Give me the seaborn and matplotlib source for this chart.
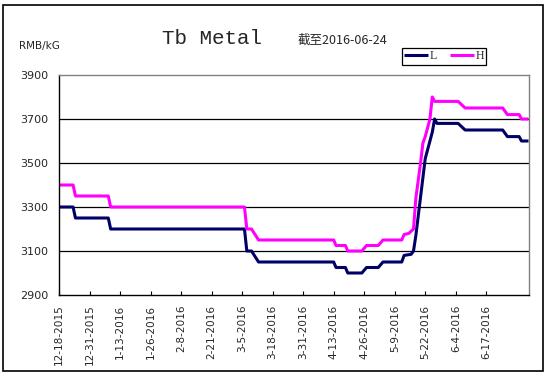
import matplotlib
matplotlib.use("Agg")
import matplotlib.pyplot as plt
from matplotlib.patches import Rectangle
import seaborn as sns
import pandas as pd

# ---- data ----
L_dates = ["2015-12-18", "2015-12-24", "2015-12-25", "2016-01-08", "2016-01-09",
           "2016-03-06", "2016-03-07", "2016-03-09", "2016-03-12", "2016-04-13",
           "2016-04-14", "2016-04-18", "2016-04-19", "2016-04-25", "2016-04-27",
           "2016-05-02", "2016-05-04", "2016-05-12", "2016-05-13", "2016-05-16",
           "2016-05-17", "2016-05-18", "2016-05-22", "2016-05-24", "2016-05-25",
           "2016-05-26", "2016-05-27", "2016-06-05", "2016-06-08", "2016-06-24",
           "2016-06-26", "2016-07-01", "2016-07-02", "2016-07-05"]
L_values = [3300, 3300, 3250, 3250, 3200,
            3200, 3100, 3100, 3050, 3050,
            3025, 3025, 3000, 3000, 3025,
            3025, 3050, 3050, 3080, 3085,
            3100, 3170, 3520, 3600, 3640,
            3700, 3680, 3680, 3650, 3650,
            3620, 3620, 3600, 3600]

H_dates = ["2015-12-18", "2015-12-24", "2015-12-25", "2016-01-08", "2016-01-09",
           "2016-03-06", "2016-03-07", "2016-03-09", "2016-03-12", "2016-04-13",
           "2016-04-14", "2016-04-18", "2016-04-19", "2016-04-25", "2016-04-27",
           "2016-05-02", "2016-05-04", "2016-05-12", "2016-05-13", "2016-05-15",
           "2016-05-17", "2016-05-18", "2016-05-20", "2016-05-21", "2016-05-22",
           "2016-05-24", "2016-05-25", "2016-05-26", "2016-06-05", "2016-06-08",
           "2016-06-24", "2016-06-26", "2016-07-01", "2016-07-02", "2016-07-05"]
H_values = [3400, 3400, 3350, 3350, 3300,
            3300, 3200, 3200, 3150, 3150,
            3125, 3125, 3100, 3100, 3125,
            3125, 3150, 3150, 3175, 3180,
            3200, 3340, 3500, 3590, 3620,
            3700, 3800, 3780, 3780, 3750,
            3750, 3720, 3720, 3700, 3700]

series_names = ["L", "H"]
series_colors = ["#000066", "#FF00FF"]

x_tick_labels = ["12-18-2015", "12-31-2015", "1-13-2016", "1-26-2016", "2-8-2016",
                 "2-21-2016", "3-5-2016", "3-18-2016", "3-31-2016", "4-13-2016",
                 "4-26-2016", "5-9-2016", "5-22-2016", "6-4-2016", "6-17-2016"]
y_ticks = [2900, 3100, 3300, 3500, 3700, 3900]

title_text = "Tb Metal"
subtitle_text = "截至2016-06-24"
unit_text = "RMB/kG"

# ---- build table ----
df = pd.concat([
    pd.DataFrame({"date": pd.to_datetime(L_dates), "value": L_values, "series": "L"}),
    pd.DataFrame({"date": pd.to_datetime(H_dates), "value": H_values, "series": "H"}),
], ignore_index=True)

sns.set_style("white")
plt.rcParams["font.family"] = ["DejaVu Sans", "Noto Sans CJK SC"]

W, H = 549, 378
fig = plt.figure(figsize=(W / 100, H / 100), dpi=100)
fig.patch.set_facecolor("white")

left, right, top, bottom = 59, 529, 75, 295
ax = fig.add_axes([left / W, 1 - bottom / H, (right - left) / W, (bottom - top) / H])

sns.lineplot(data=df, x="date", y="value", hue="series", hue_order=series_names,
             palette=dict(zip(series_names, series_colors)), linewidth=2.2,
             legend=False, ax=ax, estimator=None, sort=True)
for ln in ax.get_lines():
    ln.set_solid_joinstyle("round")
    ln.set_solid_capstyle("butt")

x0 = pd.Timestamp("2015-12-18")
ax.set_xlim(x0, x0 + pd.Timedelta(days=200.2))
ax.set_ylim(2900, 3900)
ax.set_yticks(y_ticks)
ax.set_yticklabels([str(v) for v in y_ticks])
tick_pos = pd.to_datetime(x_tick_labels, format="%m-%d-%Y")
ax.set_xticks(tick_pos)
ax.set_xticklabels(x_tick_labels, rotation=90, va="top", ha="center")
ax.set_xlabel("")
ax.set_ylabel("")

for v in y_ticks[1:-1]:
    ax.axhline(v, color="black", linewidth=0.9, zorder=0.5)

for s in ["left", "bottom"]:
    ax.spines[s].set_color("black")
    ax.spines[s].set_linewidth(1.0)
for s in ["top", "right"]:
    ax.spines[s].set_color("#808080")
    ax.spines[s].set_linewidth(1.0)

ax.tick_params(axis="x", direction="in", length=3, width=0.8, color="black",
               labelsize=7.6, pad=7, bottom=True)
ax.tick_params(axis="y", length=0, labelsize=8, pad=8, left=True)

# legend
handles = ax.get_lines()[:2]
leg = fig.legend(handles, series_names, loc="upper left",
                 bbox_to_anchor=(402 / W, 1 - 48 / H), ncol=2, frameon=True,
                 fancybox=False, edgecolor="black", framealpha=1,
                 prop={"family": "Liberation Serif", "size": 8.5},
                 handlelength=2.0, handletextpad=0.15, columnspacing=1.1,
                 borderpad=0.2, borderaxespad=0, labelspacing=0.2)
leg.get_frame().set_linewidth(0.9)

# texts
fig.text(212 / W, 1 - 38 / H, title_text, ha="center", va="center",
         family="Liberation Mono", fontsize=15)
fig.text(298 / W, 1 - 40 / H, subtitle_text, ha="left", va="center",
         family=["Noto Sans CJK SC", "DejaVu Sans"], fontsize=9)
fig.text(19 / W, 1 - 46 / H, unit_text, ha="left", va="center",
         family="DejaVu Sans", fontsize=7.5)

# outer frame
fig.patches.append(Rectangle((3 / W, 1 - 371 / H), (543 - 3) / W, (371 - 5) / H,
                             transform=fig.transFigure, fill=False,
                             edgecolor="black", linewidth=1.2))

fig.savefig("out.png", dpi=100)
